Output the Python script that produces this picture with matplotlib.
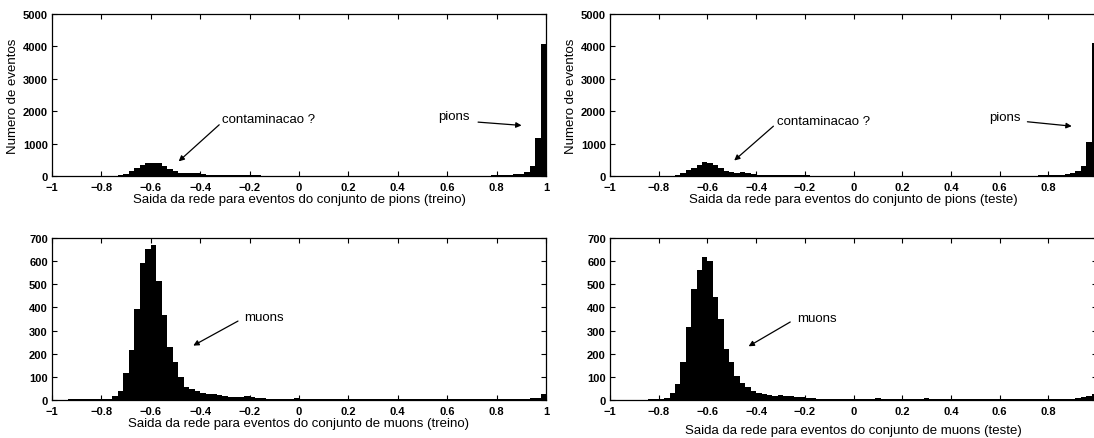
import numpy as np
import matplotlib
matplotlib.use("Agg")
import matplotlib.pyplot as plt

plt.rcParams["font.family"] = ["Liberation Sans", "DejaVu Sans"]

# 90 bins over the network output range [-1, 1]
n_bins = 90
bin_edges = np.linspace(-1.0, 1.0, n_bins + 1)

pions_treino = [
    5, 5, 5, 5, 5, 5, 5, 6, 7, 8,
    10, 15, 30, 65, 140, 245, 345, 400, 405, 390,
    310, 230, 150, 100, 95, 90, 80, 55, 40, 35,
    32, 30, 28, 25, 22, 20, 18, 16, 15, 14,
    13, 12, 11, 10, 10, 10, 10, 10, 10, 10,
    10, 10, 10, 10, 10, 10, 10, 10, 10, 10,
    10, 10, 10, 10, 10, 10, 10, 10, 10, 10,
    9, 9, 9, 9, 9, 10, 10, 11, 12, 15,
    18, 22, 30, 40, 55, 75, 115, 320, 1170, 4080,
]
pions_teste = [
    5, 5, 5, 5, 5, 5, 6, 6, 7, 8,
    10, 15, 35, 90, 180, 260, 330, 420, 410, 340,
    250, 160, 110, 85, 110, 105, 70, 45, 38, 35,
    30, 28, 25, 22, 20, 18, 16, 15, 14, 13,
    12, 11, 10, 10, 10, 10, 10, 10, 10, 10,
    10, 10, 10, 10, 10, 10, 10, 10, 10, 10,
    10, 10, 10, 10, 10, 10, 10, 10, 10, 10,
    9, 9, 9, 9, 9, 10, 11, 13, 15, 18,
    22, 28, 35, 45, 60, 85, 150, 300, 1050, 4100,
]
muons_treino = [
    2, 2, 2, 3, 3, 3, 3, 3, 4, 4,
    5, 19, 38, 116, 214, 391, 594, 652, 671, 515,
    367, 229, 165, 100, 55, 48, 40, 30, 28, 26,
    22, 18, 14, 12, 11, 16, 12, 8, 7, 6,
    6, 5, 6, 5, 8, 6, 4, 4, 4, 4,
    4, 4, 4, 3, 4, 4, 3, 4, 4, 3,
    3, 4, 3, 3, 4, 3, 3, 4, 3, 3,
    4, 3, 3, 4, 3, 4, 4, 3, 4, 4,
    4, 4, 5, 4, 5, 5, 6, 8, 10, 24,
]
muons_teste = [
    1, 1, 2, 2, 2, 2, 2, 3, 3, 3,
    10, 32, 70, 164, 315, 478, 560, 617, 600, 443,
    348, 222, 164, 105, 72, 58, 38, 30, 25, 20,
    18, 20, 19, 17, 14, 12, 9, 7, 6, 5,
    5, 4, 5, 4, 4, 5, 4, 6, 5, 7,
    4, 4, 3, 4, 3, 4, 3, 4, 7, 4,
    3, 3, 4, 3, 3, 4, 3, 3, 4, 3,
    3, 4, 3, 3, 4, 3, 3, 4, 3, 4,
    4, 4, 5, 5, 5, 5, 8, 12, 17, 24,
]

x_ticks = np.round(np.arange(-1.0, 1.01, 0.2), 1)
x_tick_labels = ["\u22121", "\u22120.8", "\u22120.6", "\u22120.4", "\u22120.2",
                 "0", "0.2", "0.4", "0.6", "0.8", "1"]
pion_yticks = [0, 1000, 2000, 3000, 4000, 5000]
muon_yticks = [0, 100, 200, 300, 400, 500, 600, 700]

xlabels = {
    "pions_treino": "Saida da rede para eventos do conjunto de pions (treino)",
    "pions_teste": "Saida da rede para eventos do conjunto de pions (teste)",
    "muons_treino": "Saida da rede para eventos do conjunto de muons (treino)",
    "muons_teste": "Saida da rede para eventos do conjunto de muons (teste)",
}


def setup_axes(ax, counts, yticks, ymax, xlabel, xlabelpad, last_label=True):
    ax.stairs(counts, bin_edges, fill=True, color="black", linewidth=0)
    ax.set_xlim(-1, 1)
    ax.set_ylim(0, ymax)
    ax.set_xticks(x_ticks)
    labels = list(x_tick_labels)
    if not last_label:
        # the right edge of these axes runs off the figure
        labels[-1] = ""
    ax.set_xticklabels(labels)
    ax.set_yticks(yticks)
    ax.tick_params(direction="in", length=3.5, width=0.8, top=True, right=True,
                   labelsize=8)
    ax.tick_params(axis="x", pad=4)
    ax.tick_params(axis="y", pad=3)
    for lab in ax.get_xticklabels() + ax.get_yticklabels():
        lab.set_fontweight("bold")
    for sp in ax.spines.values():
        sp.set_linewidth(0.9)
    ax.set_xlabel(xlabel, fontsize=9.5, labelpad=xlabelpad)


def arrow_note(ax, text, text_xy, tail, head):
    ax.text(text_xy[0], text_xy[1], text, fontsize=9.5, ha="left", va="center")
    ax.annotate("", xy=head, xytext=tail,
                arrowprops=dict(arrowstyle="-|>", color="black", lw=0.9,
                                mutation_scale=8, shrinkA=0, shrinkB=0))


fig = plt.figure(figsize=(10.94, 4.39), dpi=100)

ax_tl = fig.add_axes([0.0475, 0.5968, 0.4516, 0.369])
ax_tr = fig.add_axes([0.5576, 0.5968, 0.4452, 0.369])
ax_bl = fig.add_axes([0.0475, 0.0866, 0.4516, 0.369])
ax_br = fig.add_axes([0.5576, 0.0866, 0.4452, 0.369])

setup_axes(ax_tl, pions_treino, pion_yticks, 5000, xlabels["pions_treino"], 1)
setup_axes(ax_tr, pions_teste, pion_yticks, 5000, xlabels["pions_teste"], 1,
           last_label=False)
setup_axes(ax_bl, muons_treino, muon_yticks, 700, xlabels["muons_treino"], 1)
setup_axes(ax_br, muons_teste, muon_yticks, 700, xlabels["muons_teste"], 6,
           last_label=False)

for ax in (ax_tl, ax_tr):
    ax.set_ylabel("Numero de eventos", fontsize=9.5, labelpad=3)

arrow_note(ax_tl, "contaminacao ?", (-0.31, 1745), (-0.323, 1581), (-0.487, 452))
arrow_note(ax_tl, "pions", (0.565, 1848), (0.725, 1663), (0.901, 1561))
arrow_note(ax_tr, "contaminacao ?", (-0.314, 1694), (-0.329, 1538), (-0.49, 478))
arrow_note(ax_tr, "pions", (0.557, 1830), (0.714, 1674), (0.896, 1538))
arrow_note(ax_bl, "muons", (-0.223, 358), (-0.247, 341), (-0.428, 235))
arrow_note(ax_br, "muons", (-0.231, 356), (-0.26, 337), (-0.431, 232))

fig.savefig("out.png", dpi=100)
